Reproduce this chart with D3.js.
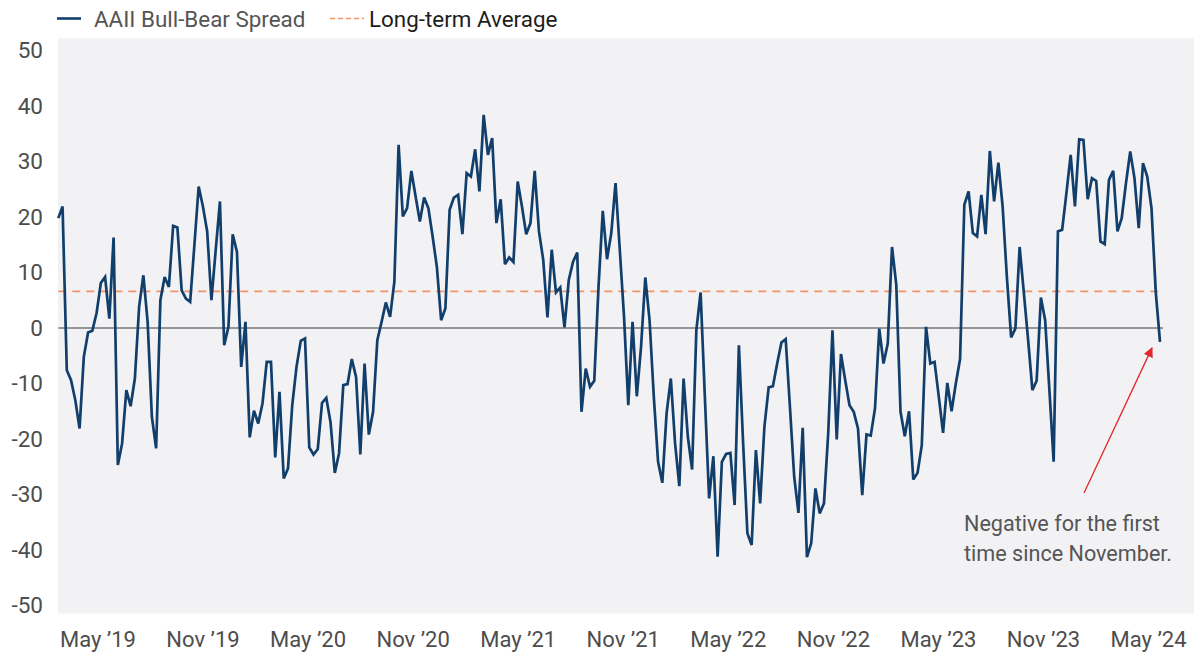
<!DOCTYPE html>
<html>
<head>
<meta charset="utf-8">
<script src="https://cdn.jsdelivr.net/npm/d3@7/dist/d3.min.js"></script>
<style>
  html, body { margin: 0; padding: 0; background: #ffffff; }
  svg { display: block; }
  text { font-family: Roboto, "Noto Sans", sans-serif; }
</style>
</head>
<body>
<svg id="chart" width="1194" height="653"></svg>
<script>
// Weekly AAII Bull-Bear spread (%), ~Apr 2019 – Apr 2024
const spreadValues = [
  19.8, 21.9, -7.6, -9.4, -13, -18.1, -5.2, -0.8, -0.5, 2.7,
  8.1, 9.2, 1.7, 16.3, -24.7, -20.8, -11.2, -14.1, -9.1, 3.8,
  9.5, 1.1, -16, -21.7, 5, 9.2, 7.4, 18.4, 18.1, 6.8,
  5.3, 4.7, 15, 25.5, 21.9, 17.4, 5, 14, 22.8, -3.1,
  0.2, 16.9, 13.7, -7, 1.1, -19.7, -14.9, -17.2, -13.6, -6.1,
  -6.1, -23.3, -11.5, -27.1, -25.3, -13.9, -7, -2.3, -1.9, -21.5,
  -22.8, -21.8, -13.5, -12.6, -17, -26.1, -22.6, -10.3, -10.1, -5.6,
  -8.8, -22.8, -6.4, -19.2, -15.1, -2.2, 1.1, 4.6, 2, 8.3,
  33, 20.1, 21.6, 28.3, 23.7, 19.2, 23.5, 21.6, 16.5, 11,
  1.4, 3.5, 21.3, 23.5, 24, 16.9, 27.9, 27.3, 32.2, 24.6,
  38.4, 31.2, 34.2, 18.9, 23.2, 11.5, 12.7, 11.9, 26.4, 21.9,
  16.9, 18.9, 28.3, 17.4, 12.3, 1.9, 14.1, 6.4, 7.3, 0.1,
  8.6, 11.9, 13.6, -15.1, -7.3, -10.6, -9.5, 7.4, 21.1, 12.4,
  17.1, 26.1, 14.1, 2, -13.9, 1.1, -12.3, -3.4, 9.1, 1.4,
  -12.4, -24.1, -27.9, -15.4, -9.1, -20.8, -28.5, -9.1, -19.6, -25.5,
  -0.4, 6.4, -12.4, -30.7, -23.1, -41.2, -24.1, -22.7, -22.5, -31.9,
  -3.1, -20.8, -37, -39.1, -22, -31.6, -17.8, -10.7, -10.5, -6.4,
  -2.6, -2, -14.2, -26.8, -33.3, -18, -41.3, -38.8, -28.9, -33.4,
  -31.6, -19, -0.4, -20.1, -4.7, -9.4, -13.9, -15.1, -18.1, -30.1,
  -19.2, -19.4, -14.5, -0.1, -6.4, -2.8, 14.6, 7.8, -15.1, -19.5,
  -15, -27.3, -26.1, -21.1, 0.2, -6.4, -6.1, -12.4, -18.9, -9.9,
  -15, -10, -5.6, 22.2, 24.6, 17.1, 16.5, 24, 16.9, 31.9,
  22.8, 29.8, 21.9, 9.2, -1.7, -0.1, 14.6, 6.3, -2.2, -11.2,
  -9.5, 5.5, 1.4, -11.2, -24.1, 17.4, 17.7, 24.3, 31.2, 21.9,
  34, 33.9, 23.2, 27, 26.5, 15.6, 15.1, 26.7, 28.3, 17.4,
  19.8, 26.1, 31.8, 27, 18, 29.7, 27.3, 21.6, 6.5, -2.5
];
const longTermAverage = 6.6;
const tickLabels = ["May \u201919", "Nov \u201919", "May \u201920", "Nov \u201920", "May \u201921",
  "Nov \u201921", "May \u201922", "Nov \u201922", "May \u201923", "Nov \u201923", "May \u201924"];
const tickIndices = [9.2, 33.9, 58.6, 83.3, 108, 132.7, 157.4, 182.1, 206.8, 231.5, 256.2];
const yTicks = [50, 40, 30, 20, 10, 0, -10, -20, -30, -40, -50];
const legendLabels = ["AAII Bull-Bear Spread", "Long-term Average"];
const annotationLines = ["Negative for the first", "time since November."];

const svg = d3.select("#chart");
const n = spreadValues.length;

const plot = { left: 58, right: 1194, top: 38.5, bottom: 613.5 };
const x = d3.scaleLinear().domain([0, n - 1]).range([58.3, 1160]);
const y = d3.scaleLinear().domain([-50, 50]).range([605.5, 50.5]);

// plot background
svg.append("rect")
  .attr("x", plot.left).attr("y", plot.top)
  .attr("width", plot.right - plot.left).attr("height", plot.bottom - plot.top)
  .attr("fill", "#f2f2f5");

// y axis labels
const yAxis = d3.axisLeft(y).tickValues(yTicks).tickSize(0).tickPadding(0).tickFormat(d => String(d));
svg.append("g").attr("transform", "translate(43,0)").call(yAxis)
  .call(g => g.select(".domain").remove())
  .call(g => g.selectAll("text").attr("font-size", 22.5).attr("fill", "#4d4d4d")
    .attr("font-family", "Roboto, sans-serif"));

// x axis labels
const xAxis = d3.axisBottom(x).tickValues(tickIndices).tickSize(0).tickPadding(0)
  .tickFormat((d, i) => tickLabels[i]);
svg.append("g").attr("transform", "translate(0,631)").call(xAxis)
  .call(g => g.select(".domain").remove())
  .call(g => g.selectAll("text").attr("font-size", 22).attr("fill", "#4d4d4d")
    .attr("font-family", "Roboto, sans-serif"));

// zero line
svg.append("line")
  .attr("x1", x(0)).attr("x2", x(n - 1) + 3)
  .attr("y1", y(0)).attr("y2", y(0))
  .attr("stroke", "#3a3a3a").attr("stroke-width", 1.2);

// long-term average
svg.append("line")
  .attr("x1", x(0)).attr("x2", x(n - 1) + 3)
  .attr("y1", y(longTermAverage)).attr("y2", y(longTermAverage))
  .attr("stroke", "#f0946a").attr("stroke-width", 1.6)
  .attr("stroke-dasharray", "8,6");

// series line
const line = d3.line().x((d, i) => x(i)).y(d => y(d));
svg.append("path").datum(spreadValues)
  .attr("d", line)
  .attr("fill", "none")
  .attr("stroke", "#123e6b")
  .attr("stroke-width", 2.7)
  .attr("stroke-linejoin", "miter")
  .attr("stroke-miterlimit", 3);

// legend
const lg = svg.append("g");
lg.append("line").attr("x1", 57).attr("x2", 81).attr("y1", 18.5).attr("y2", 18.5)
  .attr("stroke", "#123e6b").attr("stroke-width", 2.6);
lg.append("text").attr("x", 94).attr("y", 27).attr("font-size", 22.4).attr("fill", "#555")
  .text(legendLabels[0]);
lg.append("line").attr("x1", 330).attr("x2", 364).attr("y1", 18.5).attr("y2", 18.5)
  .attr("stroke", "#f0946a").attr("stroke-width", 1.6).attr("stroke-dasharray", "5,3");
lg.append("text").attr("x", 369).attr("y", 27).attr("font-size", 22.4).attr("fill", "#1e1e1e")
  .text(legendLabels[1]);

// annotation
svg.append("defs").append("marker")
  .attr("id", "arrowhead").attr("viewBox", "0 0 10 10")
  .attr("refX", 9).attr("refY", 5)
  .attr("markerWidth", 10).attr("markerHeight", 10)
  .attr("markerUnits", "userSpaceOnUse")
  .attr("orient", "auto")
  .append("path").attr("d", "M0,0 L10,5 L0,10 Z").attr("fill", "#e3262b");
const lastIdx = n - 1;
svg.append("line")
  .attr("x1", 1084).attr("y1", 493)
  .attr("x2", x(lastIdx) - 8).attr("y2", y(spreadValues[lastIdx]) + 6)
  .attr("stroke", "#e3262b").attr("stroke-width", 1.3)
  .attr("marker-end", "url(#arrowhead)");

const ann = svg.append("text").attr("x", 964).attr("y", 531)
  .attr("font-size", 21.6).attr("fill", "#555");
annotationLines.forEach((t, i) => {
  ann.append("tspan").attr("x", 964).attr("dy", i === 0 ? 0 : 30).text(t);
});
</script>
</body>
</html>
